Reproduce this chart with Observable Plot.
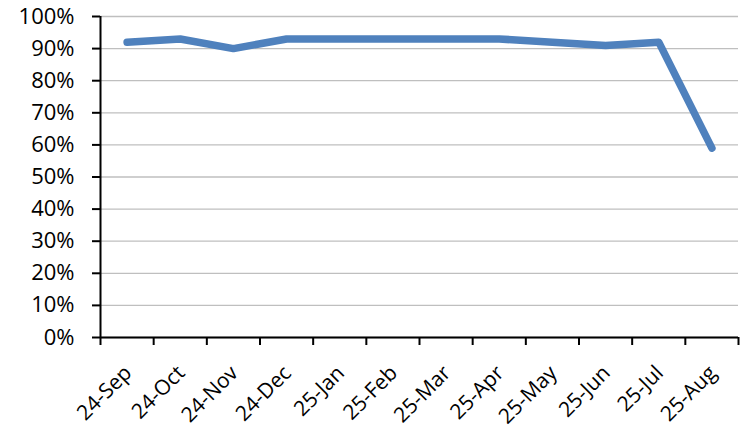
<!DOCTYPE html>
<html>
<head>
<meta charset="utf-8">
<script src="https://cdn.jsdelivr.net/npm/d3@7"></script>
<script src="https://cdn.jsdelivr.net/npm/@observablehq/plot@0.6"></script>
<style>
  html, body { margin: 0; padding: 0; background: #fff; }
  #chart svg { display: block; }
</style>
</head>
<body>
<div id="chart"></div>
<script>
const months = ["24-Sep","24-Oct","24-Nov","24-Dec","25-Jan","25-Feb","25-Mar","25-Apr","25-May","25-Jun","25-Jul","25-Aug"];
const values = [0.92, 0.93, 0.90, 0.93, 0.93, 0.93, 0.93, 0.93, 0.92, 0.91, 0.92, 0.59];
const yTicks = [0, 0.1, 0.2, 0.3, 0.4, 0.5, 0.6, 0.7, 0.8, 0.9, 1.0];

const data = months.map((m, i) => ({i, month: m, value: values[i]}));
const boundaries = d3.range(months.length + 1).map(k => k - 0.5);

const font = "'Open Sans', 'Noto Sans', sans-serif";

const chart = Plot.plot({
  width: 744,
  height: 430,
  marginLeft: 100,
  marginRight: 6,
  marginTop: 16,
  marginBottom: 93,
  style: {fontFamily: font, fontSize: "22px", color: "#000", background: "#fff"},
  x: {type: "linear", domain: [-0.5, months.length - 0.5], axis: null},
  y: {domain: [0, 1], axis: null},
  marks: [
    Plot.gridY(yTicks, {stroke: "#bfbfbf", strokeOpacity: 1, strokeWidth: 1.3}),
    Plot.axisY(yTicks, {label: null, tickFormat: d3.format(".0%"), tickSize: 8, tickPadding: 18, strokeWidth: 2, fontSize: 22}),
    Plot.ruleX([-0.5], {y1: 0, y2: 1, stroke: "#000", strokeWidth: 2}),
    Plot.axisX(boundaries, {label: null, tickFormat: () => "", tickSize: 8, strokeWidth: 2}),
    Plot.ruleY([0], {stroke: "#000", strokeWidth: 2}),
    Plot.text(data, {x: "i", y: () => 0, text: "month", rotate: -45, textAnchor: "end", dx: 1, dy: 32, fontSize: 21}),
    Plot.line(data, {x: "i", y: "value", stroke: "#4f81bd", strokeWidth: 7.5, strokeLinecap: "round", strokeLinejoin: "round"})
  ]
});
document.getElementById("chart").appendChild(chart);
</script>
</body>
</html>
